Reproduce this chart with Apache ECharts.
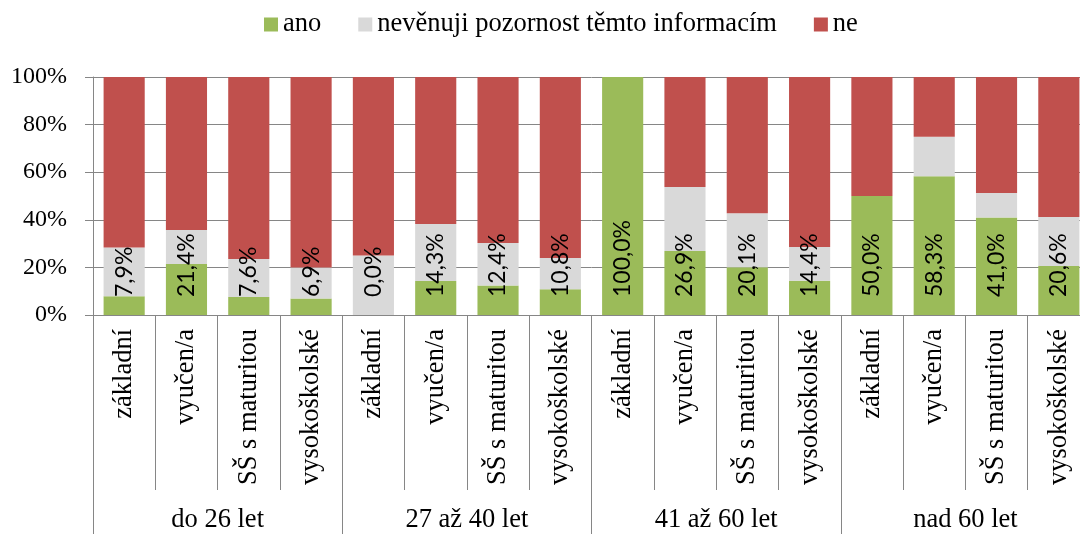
<!DOCTYPE html>
<html>
<head>
    <meta charset="utf-8">
    <title>ECharts</title>
    <script src="https://cdn.jsdelivr.net/npm/echarts@6/dist/echarts.min.js"></script>
    <style>
      body { padding: 0; margin: 0; overflow: hidden; }
      /* the original chart is cut off on the right, so the canvas is a bit wider than the window */
      #main { width: 1090px; height: 534px; }
    </style>
</head>
<body>
    <div id="main"></div>
    <script type="text/javascript">
      // kategorie vzdělání, 4 věkové skupiny
      const vzdelani = ['základní', 'vyučen/a', 'SŠ s maturitou', 'vysokoškolské'];
      const skupiny = ['do 26 let', '27 až 40 let', '41 až 60 let', 'nad 60 let'];
      const kategorie = [].concat(vzdelani, vzdelani, vzdelani, vzdelani);

      const ano = [7.9, 21.4, 7.6, 6.9, 0.0, 14.3, 12.4, 10.8, 100.0, 26.9, 20.1, 14.4, 50.0, 58.3, 41.0, 20.6];
      const nevenuji = [20.5, 14.3, 15.9, 13.1, 25.0, 23.9, 17.9, 13.2, 0, 26.9, 22.6, 14.2, 0, 16.6, 10.3, 20.6];
      const ne = [71.6, 64.3, 76.5, 80.0, 75.0, 61.8, 69.7, 76.0, 0, 46.2, 57.3, 71.4, 50.0, 25.1, 48.7, 58.8];

      const serif = '"Liberation Serif", "Times New Roman", serif';
      const gray = '#868686';

      var myChart = echarts.init(document.getElementById('main'));
      const option = {
        animation: false,
        textStyle: { fontFamily: serif },
        legend: {
          top: 6,
          left: 259,
          itemWidth: 14,
          itemHeight: 14,
          itemGap: 37,
          icon: 'rect',
          textStyle: { fontFamily: serif, fontSize: 26.5, color: '#000' },
          data: ['ano', 'nevěnuji pozornost těmto informacím', 'ne']
        },
        grid: { left: 93, right: 0, top: 77, bottom: 219 },
        xAxis: [{
          type: 'category',
          data: kategorie,
          axisLine: { show: true, lineStyle: { color: gray } },
          axisTick: { show: true, length: 175, lineStyle: { color: gray } },
          axisLabel: { rotate: 90, margin: 14, interval: 0, fontFamily: serif, fontSize: 26.5, color: '#000' }
        }, {
          type: 'category',
          data: skupiny,
          position: 'bottom',
          axisLine: { show: false },
          axisTick: { show: true, length: 219, lineStyle: { color: gray } },
          axisLabel: { margin: 192, fontFamily: serif, fontSize: 26.5, color: '#000' }
        }],
        yAxis: {
          type: 'value',
          min: 0,
          max: 100,
          interval: 20,
          axisLine: { show: true, lineStyle: { color: gray } },
          axisTick: { show: true, length: 8, lineStyle: { color: gray } },
          splitLine: { lineStyle: { color: gray } },
          axisLabel: { formatter: '{value}%', margin: 26, fontFamily: serif, fontSize: 24, color: '#000' }
        },
        series: [{
          name: 'ano',
          type: 'bar',
          stack: 'a',
          barWidth: '66%',
          data: ano,
          itemStyle: { color: '#9BBB59' },
          label: {
            show: true,
            position: 'insideBottom',
            distance: 18,
            rotate: 90,
            align: 'left',
            verticalAlign: 'middle',
            fontFamily: 'Lato, sans-serif',
            fontSize: 23,
            color: '#000',
            formatter: p => p.value.toFixed(1).replace('.', ',') + '%'
          }
        }, {
          name: 'nevěnuji pozornost těmto informacím',
          type: 'bar',
          stack: 'a',
          data: nevenuji,
          itemStyle: { color: '#D9D9D9' }
        }, {
          name: 'ne',
          type: 'bar',
          stack: 'a',
          data: ne,
          itemStyle: { color: '#C0504D' }
        }]
      };
      myChart.setOption(option);
    </script>
</body>
</html>
